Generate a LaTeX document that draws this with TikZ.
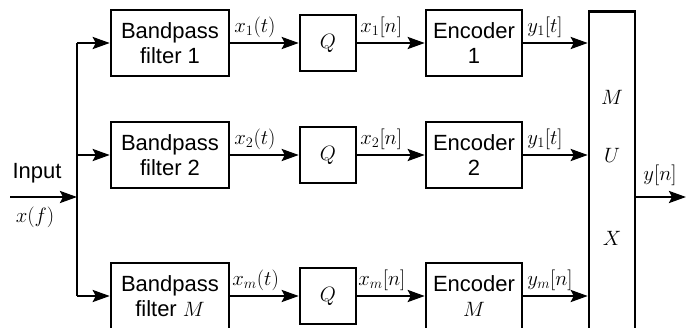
\documentclass[tikz,border=0pt]{standalone}
\usepackage{fontspec}
\setmainfont{Liberation Sans}
\usetikzlibrary{arrows.meta}

\tikzset{
  wire/.style={line width=2.5pt},
  sig/.style={wire, -{Stealth[length=17pt,width=12pt,inset=3pt]}},
  blockbox/.style={draw, line width=2.5pt, align=center, inner sep=0pt},
  filterbox/.style={blockbox, minimum width=118pt, minimum height=66pt},
  qbox/.style={blockbox, minimum width=56pt, minimum height=56pt},
  encbox/.style={blockbox, minimum width=96pt, minimum height=66pt},
  siglabel/.style={anchor=south west, inner sep=0pt},
}

\begin{document}
\begin{tikzpicture}[x=1pt, y=-1pt, font=\fontsize{22}{25}\selectfont]
  \useasboundingbox (0,0) rectangle (686,327);
  \clip (0,0) rectangle (686,327);

  % filter bank rows
  \foreach \r/\yy/\idx in {1/43/1, 2/155/2, 3/296/M} {
    \node[filterbox] (bp\r) at (170,\yy) {Bandpass\\filter \ifnum\r=3 $M$\else\idx\fi};
    \node[qbox] (q\r) at (328,\yy) {$Q$};
    \node[encbox] (enc\r) at (474,\yy) {Encoder\\\ifnum\r=3 $M$\else\idx\fi};
  }

  % multiplexer
  \node[blockbox, minimum width=46pt, minimum height=340pt, anchor=north] (mux) at (612,10) {};
  \node (muxM) at (612,97) {$M$};
  \node (muxU) at (612,155) {$U$};
  \node (muxX) at (612,238) {$X$};

  % input and distribution bus
  \coordinate (in) at (10,197);
  \coordinate (split) at (77,197);
  \coordinate (busTop) at (77,43);
  \coordinate (busBot) at (77,296);
  \draw[sig] (in) -- (split);
  \draw[wire] (busTop) -- (busBot);
  \node (inputlbl) at (37,173) {Input};
  \node (xf) at (35,217) {$x(f)$};

  \foreach \r in {1,2,3} {
    \draw[sig] (busTop |- bp\r.west) -- (bp\r.west);
    \draw[sig] (bp\r.east) -- (q\r.west);
    \draw[sig] (q\r.east) -- (enc\r.west);
    \draw[sig] (enc\r.east) -- (enc\r.east -| mux.west);
  }

  % signal labels
  \node[siglabel] (l11) at ([shift={(4,-5)}]bp1.east) {$x_1(t)$};
  \node[siglabel] (l12) at ([shift={(3,-5)}]q1.east) {$x_1[n]$};
  \node[siglabel] (l13) at ([shift={(4,-5)}]enc1.east) {$y_1[t]$};
  \node[siglabel] (l21) at ([shift={(4,-5)}]bp2.east) {$x_2(t)$};
  \node[siglabel] (l22) at ([shift={(3,-5)}]q2.east) {$x_2[n]$};
  \node[siglabel] (l23) at ([shift={(4,-5)}]enc2.east) {$y_1[t]$};
  \node[siglabel] (l31) at ([shift={(2,-5)}]bp3.east) {$x_m(t)$};
  \node[siglabel] (l32) at ([shift={(1,-5)}]q3.east) {$x_m[n]$};
  \node[siglabel] (l33) at ([shift={(4,-5)}]enc3.east) {$y_m[n]$};

  % output
  \coordinate (out) at (686,197);
  \draw[sig] (mux.east |- out) -- (out);
  \node (yn) at (660,175) {$y[n]$};
\end{tikzpicture}
\end{document}
